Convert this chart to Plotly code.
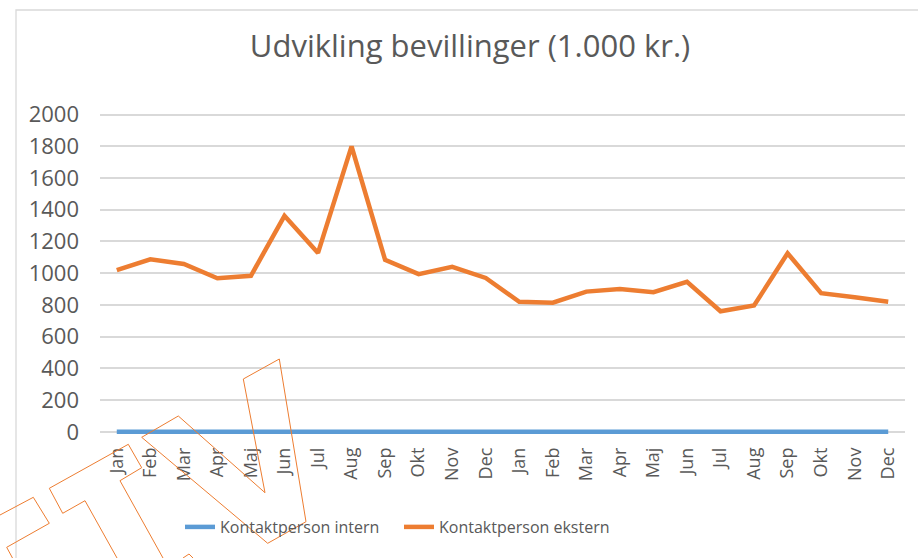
import plotly.graph_objects as go

# ---- data ----
months = ["Jan", "Feb", "Mar", "Apr", "Maj", "Jun", "Jul", "Aug", "Sep", "Okt", "Nov", "Dec"]
tick_labels = months + months
kontakt_intern = [0] * 24
kontakt_ekstern = [1020, 1088, 1058, 968, 984, 1362, 1128, 1800, 1084, 994, 1040, 970,
                   820, 814, 884, 900, 880, 946, 760, 796, 1126, 874, 848, 820]
y_ticks = list(range(0, 2001, 200))

FONT = "Open Sans, Noto Sans, sans-serif"
GREY_TXT = "#595959"
BLUE = "#5B9BD5"
ORANGE = "#ED7D31"

W, H = 918, 558
ML, MR, MT, MB = 100, 13, 113, 123
PW = W - ML - MR
PH = H - MT - MB


def to_paper(px, py):
    return (px - ML) / PW, (H - MB - py) / PH


def path(points, close=True):
    pts = [to_paper(x, y) for x, y in points]
    s = "M " + " L ".join(f"{x:.5f},{y:.5f}" for x, y in pts)
    return s + (" Z" if close else "")


x_idx = list(range(len(tick_labels)))

fig = go.Figure()
fig.add_trace(go.Scatter(x=x_idx, y=kontakt_intern, mode="lines", name="Kontaktperson intern",
                         line=dict(color=BLUE, width=4.5)))
fig.add_trace(go.Scatter(x=x_idx, y=kontakt_ekstern, mode="lines", name="Kontaktperson ekstern",
                         line=dict(color=ORANGE, width=4.5)))

# decorative overlay outlines present in the source image
deco = [
    ([(141.7, 437.3), (178.3, 416), (265, 492.7), (243.3, 379), (279.3, 359),
      (306, 521.7), (267.7, 543.3)], True),
    ([(117, 558), (85, 500.7), (62.7, 513.3), (49.3, 488.3), (128.3, 444.3),
      (141.7, 467.7), (120, 480.7), (163, 558)], False),
    ([(0, 515), (33.3, 497.3), (49.3, 523.3), (6.7, 547.3), (12.5, 558)], False),
    ([(183, 558), (189, 554), (193, 558)], False),
]
shapes = [
    dict(type="path", xref="paper", yref="paper",
         path=path([(16, 570), (16, 10), (930, 10)], close=False),
         line=dict(color="#D9D9D9", width=1.3), layer="below"),
]
for pts, closed in deco:
    shapes.append(dict(type="path", xref="paper", yref="paper", path=path(pts, closed),
                       line=dict(color=ORANGE, width=1), layer="above"))

fig.update_layout(
    width=W, height=H,
    margin=dict(l=ML, r=MR, t=MT, b=MB),
    paper_bgcolor="white", plot_bgcolor="white",
    font=dict(family=FONT, color=GREY_TXT),
    title=dict(text="Udvikling bevillinger (1.000 kr.)", x=0.512, xref="container", xanchor="center",
               y=1 - 46 / H, yref="container", yanchor="middle",
               font=dict(size=31, color=GREY_TXT, family=FONT)),
    xaxis=dict(range=[-0.5, 23.5], tickmode="array", tickvals=x_idx, ticktext=tick_labels,
               tickangle=-90, showgrid=False, zeroline=False, showline=False,
               tickfont=dict(size=18, color=GREY_TXT), ticks="", ticklabelstandoff=8,
               fixedrange=True),
    yaxis=dict(range=[-20, 2010], tickmode="array", tickvals=y_ticks,
               showgrid=True, gridcolor="#D9D9D9", gridwidth=1.6, zeroline=False, showline=False,
               tickfont=dict(size=22, color=GREY_TXT), ticks="", ticklabelstandoff=20),
    legend=dict(orientation="h", x=to_paper(180, 0)[0], xanchor="left", y=to_paper(0, 527)[1],
                yanchor="middle", font=dict(size=16, color=GREY_TXT, family=FONT),
                entrywidth=174, bgcolor="rgba(0,0,0,0)"),
    shapes=shapes,
    showlegend=True,
)

fig.write_html("out.html", config={"displayModeBar": False},
               post_script="document.body.style.margin='0';")
